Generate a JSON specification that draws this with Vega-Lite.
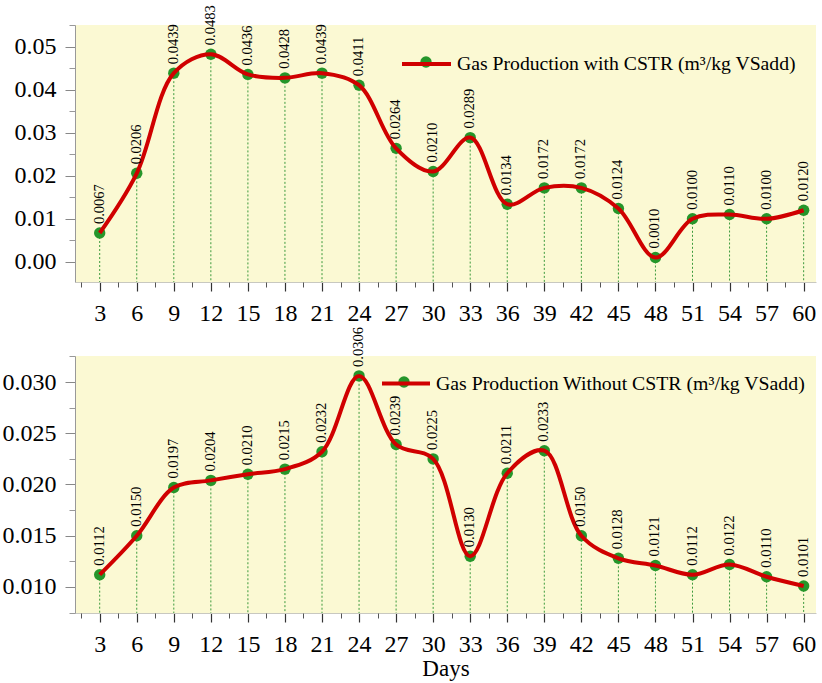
{
  "$schema": "https://vega.github.io/schema/vega-lite/v6.json",
  "padding": {"left": 2, "top": 5, "right": 4, "bottom": 1},
  "background": "white",
  "bounds": "flush",
  "spacing": 74,
  "config": {
    "font": "Liberation Serif",
    "view": {"fill": "#fbf9d3", "stroke": null},
    "axis": {"grid": false, "labelFont": "Liberation Serif", "labelColor": "#000", "titleFont": "Liberation Serif", "titleColor": "#000", "titleFontWeight": "normal"}
  },
  "resolve": {"scale": {"stroke": "independent", "fill": "independent"}, "legend": {"stroke": "independent", "fill": "independent"}},
  "datasets": {
    "cstr": [
      {"day": 3, "value": 0.0067, "series": "Gas Production with CSTR (m³/kg VSadd)", "pt": "p1"},
      {"day": 6, "value": 0.0206, "series": "Gas Production with CSTR (m³/kg VSadd)", "pt": "p1"},
      {"day": 9, "value": 0.0439, "series": "Gas Production with CSTR (m³/kg VSadd)", "pt": "p1"},
      {"day": 12, "value": 0.0483, "series": "Gas Production with CSTR (m³/kg VSadd)", "pt": "p1"},
      {"day": 15, "value": 0.0436, "series": "Gas Production with CSTR (m³/kg VSadd)", "pt": "p1"},
      {"day": 18, "value": 0.0428, "series": "Gas Production with CSTR (m³/kg VSadd)", "pt": "p1"},
      {"day": 21, "value": 0.0439, "series": "Gas Production with CSTR (m³/kg VSadd)", "pt": "p1"},
      {"day": 24, "value": 0.0411, "series": "Gas Production with CSTR (m³/kg VSadd)", "pt": "p1"},
      {"day": 27, "value": 0.0264, "series": "Gas Production with CSTR (m³/kg VSadd)", "pt": "p1"},
      {"day": 30, "value": 0.0210, "series": "Gas Production with CSTR (m³/kg VSadd)", "pt": "p1"},
      {"day": 33, "value": 0.0289, "series": "Gas Production with CSTR (m³/kg VSadd)", "pt": "p1"},
      {"day": 36, "value": 0.0134, "series": "Gas Production with CSTR (m³/kg VSadd)", "pt": "p1"},
      {"day": 39, "value": 0.0172, "series": "Gas Production with CSTR (m³/kg VSadd)", "pt": "p1"},
      {"day": 42, "value": 0.0172, "series": "Gas Production with CSTR (m³/kg VSadd)", "pt": "p1"},
      {"day": 45, "value": 0.0124, "series": "Gas Production with CSTR (m³/kg VSadd)", "pt": "p1"},
      {"day": 48, "value": 0.0010, "series": "Gas Production with CSTR (m³/kg VSadd)", "pt": "p1"},
      {"day": 51, "value": 0.0100, "series": "Gas Production with CSTR (m³/kg VSadd)", "pt": "p1"},
      {"day": 54, "value": 0.0110, "series": "Gas Production with CSTR (m³/kg VSadd)", "pt": "p1"},
      {"day": 57, "value": 0.0100, "series": "Gas Production with CSTR (m³/kg VSadd)", "pt": "p1"},
      {"day": 60, "value": 0.0120, "series": "Gas Production with CSTR (m³/kg VSadd)", "pt": "p1"}
    ],
    "nocstr": [
      {"day": 3, "value": 0.0112, "series": "Gas Production Without CSTR (m³/kg VSadd)", "pt": "p2"},
      {"day": 6, "value": 0.0150, "series": "Gas Production Without CSTR (m³/kg VSadd)", "pt": "p2"},
      {"day": 9, "value": 0.0197, "series": "Gas Production Without CSTR (m³/kg VSadd)", "pt": "p2"},
      {"day": 12, "value": 0.0204, "series": "Gas Production Without CSTR (m³/kg VSadd)", "pt": "p2"},
      {"day": 15, "value": 0.0210, "series": "Gas Production Without CSTR (m³/kg VSadd)", "pt": "p2"},
      {"day": 18, "value": 0.0215, "series": "Gas Production Without CSTR (m³/kg VSadd)", "pt": "p2"},
      {"day": 21, "value": 0.0232, "series": "Gas Production Without CSTR (m³/kg VSadd)", "pt": "p2"},
      {"day": 24, "value": 0.0306, "series": "Gas Production Without CSTR (m³/kg VSadd)", "pt": "p2"},
      {"day": 27, "value": 0.0239, "series": "Gas Production Without CSTR (m³/kg VSadd)", "pt": "p2"},
      {"day": 30, "value": 0.0225, "series": "Gas Production Without CSTR (m³/kg VSadd)", "pt": "p2"},
      {"day": 33, "value": 0.0130, "series": "Gas Production Without CSTR (m³/kg VSadd)", "pt": "p2"},
      {"day": 36, "value": 0.0211, "series": "Gas Production Without CSTR (m³/kg VSadd)", "pt": "p2"},
      {"day": 39, "value": 0.0233, "series": "Gas Production Without CSTR (m³/kg VSadd)", "pt": "p2"},
      {"day": 42, "value": 0.0150, "series": "Gas Production Without CSTR (m³/kg VSadd)", "pt": "p2"},
      {"day": 45, "value": 0.0128, "series": "Gas Production Without CSTR (m³/kg VSadd)", "pt": "p2"},
      {"day": 48, "value": 0.0121, "series": "Gas Production Without CSTR (m³/kg VSadd)", "pt": "p2"},
      {"day": 51, "value": 0.0112, "series": "Gas Production Without CSTR (m³/kg VSadd)", "pt": "p2"},
      {"day": 54, "value": 0.0122, "series": "Gas Production Without CSTR (m³/kg VSadd)", "pt": "p2"},
      {"day": 57, "value": 0.0110, "series": "Gas Production Without CSTR (m³/kg VSadd)", "pt": "p2"},
      {"day": 60, "value": 0.0101, "series": "Gas Production Without CSTR (m³/kg VSadd)", "pt": "p2"}
    ]
  },
  "vconcat": [
    {
      "width": 741,
      "height": 257,
      "data": {"name": "cstr"},
      "resolve": {"axis": {"x": "independent", "y": "independent"}},
      "layer": [
        {
          "mark": {"type": "rule", "color": "#3c9a3c", "strokeDash": [2, 2], "strokeWidth": 1},
          "encoding": {
            "x": {"field": "day", "type": "quantitative", "scale": {"domain": [1, 61], "nice": false, "zero": false},
                  "axis": {"orient": "bottom", "values": [3,6,9,12,15,18,21,24,27,30,33,36,39,42,45,48,51,54,57,60], "title": null, "labelFontSize": 24, "tickSize": 9, "tickColor": "#333", "tickWidth": 1.2, "labelPadding": 10, "domainColor": "#c8c8c0", "labelFlush": false, "labelOverlap": false}},
            "y": {"field": "value", "type": "quantitative", "scale": {"domain": [-0.0047, 0.0551], "nice": false, "zero": false},
                  "axis": {"orient": "left", "values": [0, 0.01, 0.02, 0.03, 0.04, 0.05], "format": ".2f", "title": null, "labelFontSize": 24, "tickSize": 10, "tickColor": "#888", "labelPadding": 9, "domainColor": "#999", "labelFlush": false, "labelOverlap": false}},
            "y2": {"datum": -0.0047}
          }
        },
        {
          "mark": {"type": "point", "filled": true, "size": 130, "opacity": 1},
          "encoding": {
            "x": {"field": "day", "type": "quantitative", "axis": null},
            "y": {"field": "value", "type": "quantitative", "axis": null},
            "fill": {"field": "pt", "type": "nominal", "scale": {"range": ["#25962a"]},
                     "legend": {"orient": "none", "legendX": 345, "legendY": 31, "title": null, "symbolType": "circle", "symbolSize": 130, "symbolStrokeWidth": 0, "labelOpacity": 0, "labelFontSize": 1}}
          }
        },
        {
          "mark": {"type": "line", "interpolate": "catmull-rom", "strokeWidth": 4},
          "encoding": {
            "x": {"field": "day", "type": "quantitative", "axis": null},
            "y": {"field": "value", "type": "quantitative", "axis": null},
            "stroke": {"field": "series", "type": "nominal", "scale": {"range": ["#d00000"]},
                       "legend": {"orient": "none", "legendX": 325, "legendY": 12.5, "title": null, "symbolType": "stroke", "symbolSize": 2401, "symbolStrokeWidth": 4, "labelFontSize": 19.7, "labelFont": "Liberation Serif", "labelColor": "#000", "labelLimit": 600, "labelOffset": 4}}
          }
        },
        {
          "mark": {"type": "text", "angle": 270, "align": "left", "baseline": "middle", "dx": 9, "fontSize": 14.5, "font": "Liberation Serif", "color": "#000"},
          "encoding": {
            "x": {"field": "day", "type": "quantitative", "axis": null},
            "y": {"field": "value", "type": "quantitative", "axis": null},
            "text": {"field": "value", "type": "quantitative", "format": ".4f"}
          }
        },
        {
          "mark": {"type": "point", "opacity": 0},
          "encoding": {
            "x": {"field": "day", "type": "quantitative",
                  "axis": {"orient": "bottom", "values": [1.5,4.5,7.5,10.5,13.5,16.5,19.5,22.5,25.5,28.5,31.5,34.5,37.5,40.5,43.5,46.5,49.5,52.5,55.5,58.5], "labels": false, "domain": false, "title": null, "tickSize": 5, "tickColor": "#555"}},
            "y": {"field": "value", "type": "quantitative",
                  "axis": {"orient": "left", "values": [-0.005, 0.005, 0.015, 0.025, 0.035, 0.045, 0.055], "labels": false, "domain": false, "title": null, "tickSize": 6, "tickColor": "#999"}}
          }
        }
      ]
    },
    {
      "width": 741,
      "height": 257,
      "data": {"name": "nocstr"},
      "resolve": {"axis": {"x": "independent", "y": "independent"}},
      "layer": [
        {
          "mark": {"type": "rule", "color": "#3c9a3c", "strokeDash": [2, 2], "strokeWidth": 1},
          "encoding": {
            "x": {"field": "day", "type": "quantitative", "scale": {"domain": [1, 61], "nice": false, "zero": false},
                  "axis": {"orient": "bottom", "values": [3,6,9,12,15,18,21,24,27,30,33,36,39,42,45,48,51,54,57,60], "title": "Days", "titleFontSize": 23, "titlePadding": 1, "labelFontSize": 24, "tickSize": 9, "tickColor": "#333", "tickWidth": 1.2, "labelPadding": 10, "domainColor": "#c8c8c0", "labelFlush": false, "labelOverlap": false}},
            "y": {"field": "value", "type": "quantitative", "scale": {"domain": [0.00746, 0.03254], "nice": false, "zero": false},
                  "axis": {"orient": "left", "values": [0.01, 0.015, 0.02, 0.025, 0.03], "format": ".3f", "title": null, "labelFontSize": 24, "tickSize": 10, "tickColor": "#888", "labelPadding": 9, "domainColor": "#999", "labelFlush": false, "labelOverlap": false}},
            "y2": {"datum": 0.00746}
          }
        },
        {
          "mark": {"type": "point", "filled": true, "size": 130, "opacity": 1},
          "encoding": {
            "x": {"field": "day", "type": "quantitative", "axis": null},
            "y": {"field": "value", "type": "quantitative", "axis": null},
            "fill": {"field": "pt", "type": "nominal", "scale": {"range": ["#25962a"]},
                     "legend": {"orient": "none", "legendX": 323, "legendY": 20, "title": null, "symbolType": "circle", "symbolSize": 130, "symbolStrokeWidth": 0, "labelOpacity": 0, "labelFontSize": 1}}
          }
        },
        {
          "mark": {"type": "line", "interpolate": "catmull-rom", "strokeWidth": 4},
          "encoding": {
            "x": {"field": "day", "type": "quantitative", "axis": null},
            "y": {"field": "value", "type": "quantitative", "axis": null},
            "stroke": {"field": "series", "type": "nominal", "scale": {"range": ["#d00000"]},
                       "legend": {"orient": "none", "legendX": 305, "legendY": 1.5, "title": null, "symbolType": "stroke", "symbolSize": 2304, "symbolStrokeWidth": 4, "labelFontSize": 19.8, "labelFont": "Liberation Serif", "labelColor": "#000", "labelLimit": 600, "labelOffset": 4}}
          }
        },
        {
          "mark": {"type": "text", "angle": 270, "align": "left", "baseline": "middle", "dx": 9, "fontSize": 14.5, "font": "Liberation Serif", "color": "#000"},
          "encoding": {
            "x": {"field": "day", "type": "quantitative", "axis": null},
            "y": {"field": "value", "type": "quantitative", "axis": null},
            "text": {"field": "value", "type": "quantitative", "format": ".4f"}
          }
        },
        {
          "mark": {"type": "point", "opacity": 0},
          "encoding": {
            "x": {"field": "day", "type": "quantitative",
                  "axis": {"orient": "bottom", "values": [1.5,4.5,7.5,10.5,13.5,16.5,19.5,22.5,25.5,28.5,31.5,34.5,37.5,40.5,43.5,46.5,49.5,52.5,55.5,58.5], "labels": false, "domain": false, "title": null, "tickSize": 5, "tickColor": "#555"}},
            "y": {"field": "value", "type": "quantitative",
                  "axis": {"orient": "left", "values": [0.0075, 0.0125, 0.0175, 0.0225, 0.0275, 0.0325], "labels": false, "domain": false, "title": null, "tickSize": 6, "tickColor": "#999"}}
          }
        }
      ]
    }
  ]
}
